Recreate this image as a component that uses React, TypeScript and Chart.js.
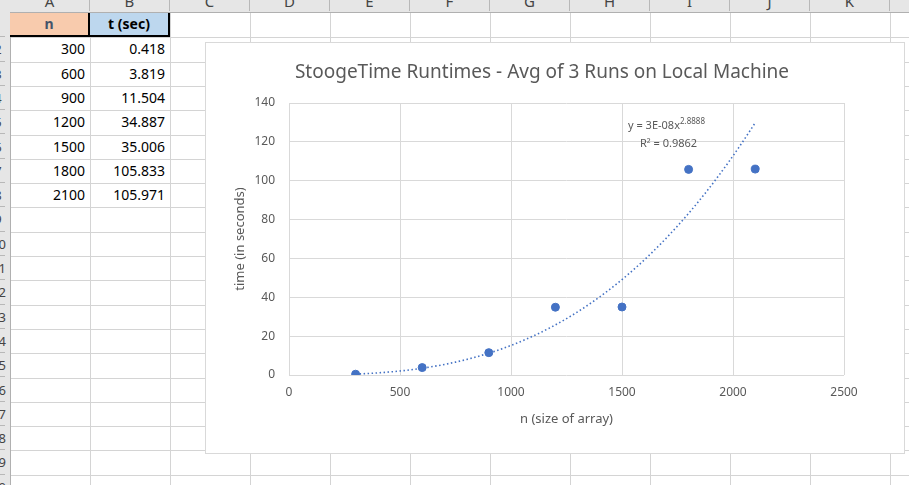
import { useEffect, useRef } from "react";
import { Chart, registerables } from "chart.js";

Chart.register(...registerables);

const sizes = [300, 600, 900, 1200, 1500, 1800, 2100];
const timesText = ["0.418", "3.819", "11.504", "34.887", "35.006", "105.833", "105.971"];
const times = timesText.map(Number);
const xTicks = [0, 500, 1000, 1500, 2000, 2500];
const yTicks = [0, 20, 40, 60, 80, 100, 120, 140];
const columns = ["A", "B", "C", "D", "E", "F", "G", "H", "I", "J", "K"];

const FONT = "'Noto Sans', 'Open Sans', sans-serif";
const COL_W = 80;
const COL_X0 = 10;
const ROW_H = 24.3;
const ROW_Y0 = 13;

// power regression (as Excel's trendline): ln y = ln a + b ln x
function powerFit(xs: number[], ys: number[]) {
  const lx = xs.map(Math.log), ly = ys.map(Math.log);
  const n = xs.length;
  const mx = lx.reduce((s, v) => s + v, 0) / n;
  const my = ly.reduce((s, v) => s + v, 0) / n;
  let sxy = 0, sxx = 0;
  for (let i = 0; i < n; i++) { sxy += (lx[i] - mx) * (ly[i] - my); sxx += (lx[i] - mx) ** 2; }
  const b = sxy / sxx;
  const a = Math.exp(my - b * mx);
  return { a, b };
}

const trendLabel = {
  id: "trendLabel",
  afterDraw(chart: Chart) {
    const { ctx } = chart;
    ctx.save();
    ctx.fillStyle = "#595959";
    ctx.textBaseline = "alphabetic";
    ctx.font = `11px ${FONT}`;
    const x0 = 422, y0 = 86;
    ctx.fillText("y = 3E-08x", x0, y0);
    const w = ctx.measureText("y = 3E-08x").width;
    ctx.font = `8px ${FONT}`;
    ctx.fillText("2.8888", x0 + w, y0 - 5);
    ctx.font = `11px ${FONT}`;
    ctx.fillText("R² = 0.9862", 434, 104);
    ctx.font = `19px ${FONT}`;
    ctx.textAlign = "center";
    ctx.fillText("StoogeTime Runtimes - Avg of 3 Runs on Local Machine", 336, 35);
    ctx.restore();
  },
};

function ChartBox() {
  const ref = useRef<HTMLCanvasElement>(null);
  useEffect(() => {
    if (!ref.current) return;
    const { a, b } = powerFit(sizes, times);
    const trend = [];
    for (let x = sizes[0]; x <= sizes[sizes.length - 1]; x += 25) trend.push({ x, y: a * Math.pow(x, b) });
    const chart = new Chart(ref.current, {
      type: "scatter",
      data: {
        datasets: [
          {
            data: sizes.map((x, i) => ({ x, y: times[i] })),
            backgroundColor: "#4472C4",
            borderColor: "#4472C4",
            pointRadius: 4,
            pointHoverRadius: 4,
          },
          {
            type: "line",
            data: trend,
            borderColor: "#4472C4",
            borderWidth: 1.6,
            borderDash: [1.5, 2.5],
            pointRadius: 0,
            fill: false,
          },
        ],
      },
      options: {
        responsive: false,
        animation: false,
        layout: { padding: { top: 60, right: 60, left: 22, bottom: 22 } },
        plugins: { legend: { display: false }, tooltip: { enabled: false } },
        scales: {
          x: {
            type: "linear",
            min: 0,
            max: 2500,
            afterBuildTicks: (s: any) => { s.ticks = xTicks.map((v) => ({ value: v })); },
            afterFit: (s: any) => { s.height = 56; },
            grid: { color: "#d9d9d9", drawTicks: false },
            border: { display: false },
            ticks: { color: "#595959", font: { family: FONT, size: 12 }, padding: 10, callback: (v: any) => String(v) },
            title: { display: true, text: "n (size of array)", color: "#595959", font: { family: FONT, size: 13 }, padding: { top: 4 } },
          },
          y: {
            min: 0,
            max: 140,
            afterBuildTicks: (s: any) => { s.ticks = yTicks.map((v) => ({ value: v })); },
            afterFit: (s: any) => { s.width = 61; },
            grid: { color: "#d9d9d9", drawTicks: false },
            border: { display: false },
            ticks: { color: "#595959", font: { family: FONT, size: 12 }, padding: 14, callback: (v: any) => String(v) },
            title: { display: true, text: "time (in seconds)", color: "#595959", font: { family: FONT, size: 13 }, padding: { bottom: 0 } },
          },
        },
      },
      plugins: [trendLabel],
    });
    return () => chart.destroy();
  }, []);
  return (
    <div style={{ position: "absolute", left: 205, top: 42, width: 700, height: 412, background: "#fff", border: "1px solid #d9d9d9", boxSizing: "border-box" }}>
      <canvas ref={ref} width={698} height={410} style={{ position: "absolute", left: 0, top: 0 }} />
    </div>
  );
}

export default function App() {
  useEffect(() => { document.body.style.margin = "0"; }, []);
  const rows = Array.from({ length: 20 }, (_, i) => i);
  return (
    <div style={{ position: "relative", width: 909, height: 485, overflow: "hidden", background: "#fff", fontFamily: FONT, fontSize: 14 }}>
      {columns.map((_, i) => (
        <div key={"v" + i} style={{ position: "absolute", left: COL_X0 + (i + 1) * COL_W, top: 0, width: 1, height: 485, background: "#d4d4d4" }} />
      ))}
      {rows.map((r) => (
        <div key={"h" + r} style={{ position: "absolute", left: 0, top: ROW_Y0 + (r + 1) * ROW_H, width: 909, height: 1, background: "#d4d4d4" }} />
      ))}
      <div style={{ position: "absolute", left: 0, top: 0, width: 909, height: 12, background: "#e6e6e6", borderBottom: "1px solid #b0b0b0" }} />
      {columns.map((c, i) => (
        <div key={c} style={{ position: "absolute", left: COL_X0 + i * COL_W, top: -9, width: COL_W, height: 20, textAlign: "center", color: "#444", fontSize: 15, lineHeight: "20px", borderRight: "1px solid #b8b8b8", boxSizing: "border-box" }}>{c}</div>
      ))}
      <div style={{ position: "absolute", left: 0, top: 12, width: COL_X0, height: 473, background: "#e6e6e6", borderRight: "1px solid #b0b0b0" }} />
      {rows.map((r) => (
        <div key={"r" + r} style={{ position: "absolute", left: -9, top: ROW_Y0 + r * ROW_H, width: 14, height: ROW_H, textAlign: "center", lineHeight: `${ROW_H}px`, color: "#444", fontSize: 13, borderBottom: "1px solid #b8b8b8", boxSizing: "border-box" }}>{r + 1}</div>
      ))}
      <div style={{ position: "absolute", left: COL_X0, top: ROW_Y0, width: COL_W, height: ROW_H, background: "#F8CBAD", borderBottom: "2px solid #000", borderRight: "2px solid #000", boxSizing: "border-box", textAlign: "center", fontWeight: "bold", color: "#44546A", lineHeight: "22px" }}>n</div>
      <div style={{ position: "absolute", left: COL_X0 + COL_W, top: ROW_Y0, width: COL_W, height: ROW_H, background: "#BDD7EE", borderBottom: "2px solid #000", borderRight: "2px solid #000", boxSizing: "border-box", textAlign: "center", fontWeight: "bold", color: "#000", lineHeight: "22px" }}>t (sec)</div>
      {sizes.map((n, i) => (
        <div key={"d" + i}>
          <div style={{ position: "absolute", left: COL_X0, top: ROW_Y0 + (i + 1) * ROW_H, width: COL_W - 5, height: ROW_H, textAlign: "right", lineHeight: `${ROW_H}px` }}>{n}</div>
          <div style={{ position: "absolute", left: COL_X0 + COL_W, top: ROW_Y0 + (i + 1) * ROW_H, width: COL_W - 5, height: ROW_H, textAlign: "right", lineHeight: `${ROW_H}px` }}>{timesText[i]}</div>
        </div>
      ))}
      <ChartBox />
    </div>
  );
}
